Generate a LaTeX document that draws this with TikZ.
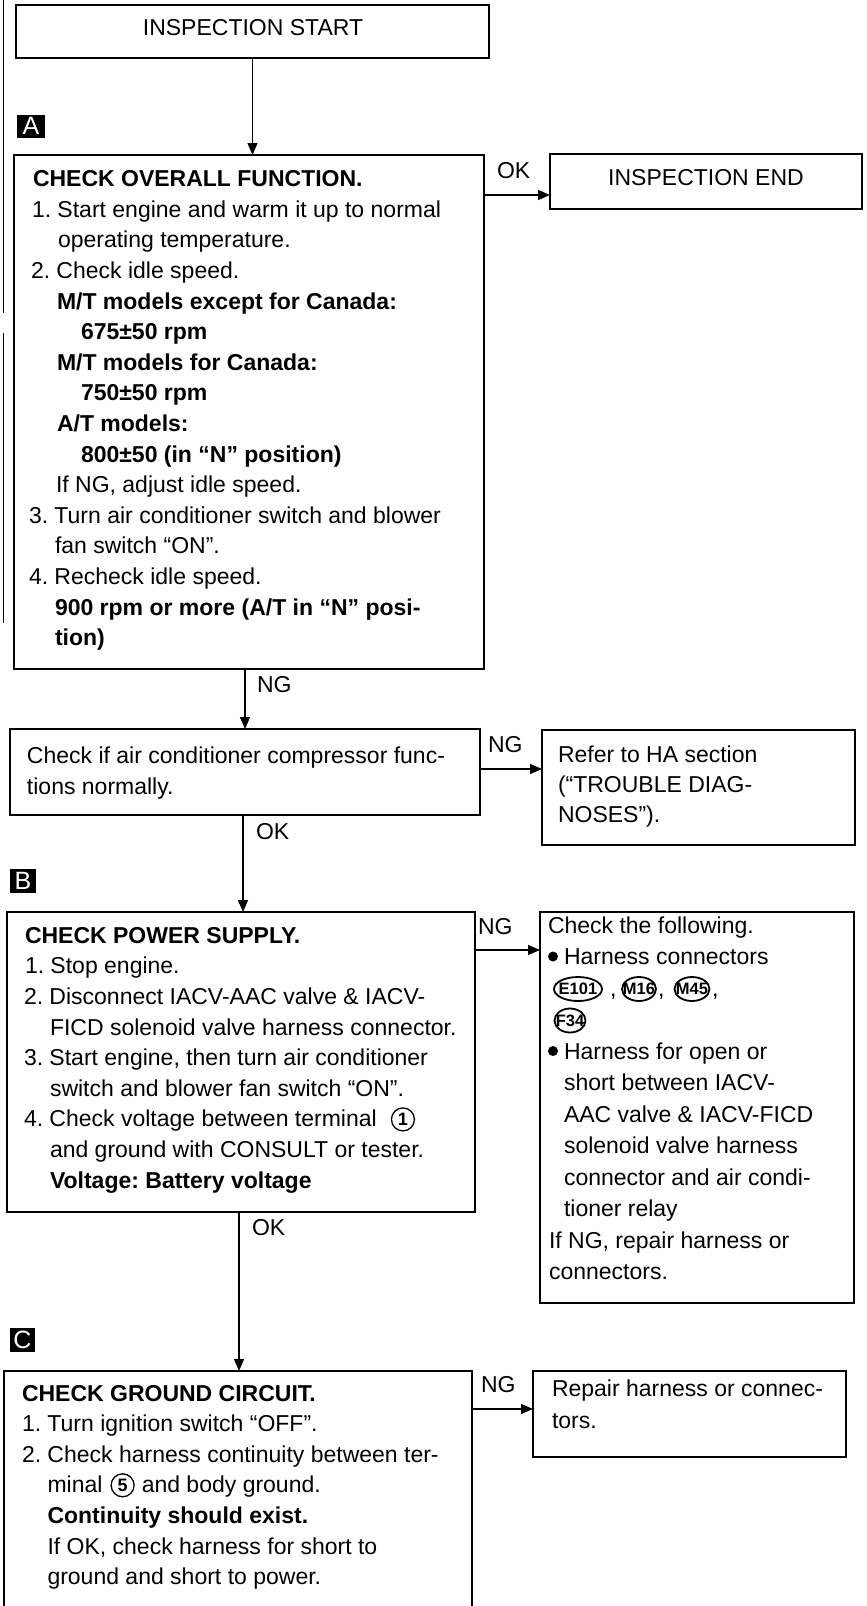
\documentclass[tikz,border=0pt]{standalone}
\usepackage{fontspec}
\setmainfont{Liberation Sans}
\usetikzlibrary{arrows.meta,shapes.geometric}
\newcommand{\nb}[1]{\makebox[25.5pt][l]{#1}}
\frenchspacing
\begin{document}
\begin{tikzpicture}[x=1pt,y=-1pt,
  box/.style={draw,line width=1.5pt,rectangle,inner sep=0pt,outer sep=0pt},
  txt/.style={anchor=base west,inner sep=0pt,outer sep=0pt,font=\fontsize{23}{27}\selectfont\frenchspacing},
  btxt/.style={txt,font=\fontsize{23}{27}\selectfont\bfseries\frenchspacing},
  arr/.style={line width=1.2pt,-{Triangle[length=12pt,width=10pt]}},
  stepbox/.style={fill=black,text=white,inner sep=0pt,font=\fontsize{25}{25}\selectfont},
  circnum/.style={circle,draw,line width=1.3pt,minimum size=23pt,inner sep=0pt,anchor=west,font=\fontsize{18}{18}\selectfont\bfseries},
  oval/.style={ellipse,draw,line width=1.8pt,minimum height=24pt,inner xsep=-5pt,inner ysep=-2pt,font=\fontsize{16.5}{16.5}\selectfont\bfseries},
  bul/.style={circle,fill=black,minimum size=10pt,inner sep=0pt}
]
\path[use as bounding box] (0,0) rectangle (867,1606);
\clip (0,0) rectangle (867,1606);

% scan edge lines
\draw[line width=1pt] (3,0) -- (3,313);
\draw[line width=1pt] (3,333) -- (3,623);

% boxes
\node[box,minimum width=473pt,minimum height=53pt] (S) at (252.5,31.5) {};
\node[box,minimum width=470pt,minimum height=514pt] (A) at (249,412) {};
\node[box,minimum width=312pt,minimum height=55pt] (E) at (706,181.5) {};
\node[box,minimum width=470pt,minimum height=86pt] (K) at (245,772) {};
\node[box,minimum width=313pt,minimum height=115pt] (H) at (698.5,787.5) {};
\node[box,minimum width=468pt,minimum height=300pt] (B) at (241,1062) {};
\node[box,minimum width=314pt,minimum height=391pt] (R) at (697,1107.5) {};
\node[box,minimum width=468pt,minimum height=259pt] (C) at (238,1500.5) {};
\node[box,minimum width=313pt,minimum height=86pt] (P) at (689.5,1414) {};

% step labels
\node[stepbox,minimum width=28pt,minimum height=23pt] (LA) at (31,126) {A};
\node[stepbox,minimum width=26pt,minimum height=24pt] (LB) at (23,881) {B};
\node[stepbox,minimum width=25pt,minimum height=24pt] (LC) at (22.5,1340) {C};

% connectors
\coordinate (yA) at (0,195);
\coordinate (yK) at (0,769);
\coordinate (yB) at (0,950);
\coordinate (yC) at (0,1409);
\draw[arr] (S.south) -- (S.south |- A.north);
\draw[arr] (A.east |- yA) -- (E.west |- yA);
\draw[arr] (A.south -| K.north) -- (K.north);
\draw[arr] (K.east |- yK) -- (H.west |- yK);
\draw[arr] ([xshift=-2pt]K.south) -- ([xshift=-2pt]K.south |- B.north);
\draw[arr] (B.east |- yB) -- (R.west |- yB);
\draw[arr] ([xshift=-2pt]B.south) -- ([xshift=-2pt]B.south |- C.north);
\draw[arr] (C.east |- yC) -- (P.west |- yC);

% connector labels
\node[txt] (l1) at (497,178) {OK};
\node[txt] (l2) at (257,692.7) {NG};
\node[txt] (l3) at (488,752.7) {NG};
\node[txt] (l4) at (256,839) {OK};
\node[txt] (l5) at (478,934) {NG};
\node[txt] (l6) at (252,1235) {OK};
\node[txt] (l7) at (481,1392) {NG};

% start / end
\node[txt,anchor=base] (St) at (253,35) {INSPECTION START};
\node[txt,anchor=base] (Et) at (706,185) {INSPECTION END};

% box A text
\node[btxt] (a1) at (33,186.7) {CHECK OVERALL FUNCTION.};
\node[txt] (a2) at (32,217.3) {\nb{1.}Start engine and warm it up to normal};
\node[txt] (a3) at (58,247.9) {operating temperature.};
\node[txt] (a4) at (31,278.5) {\nb{2.}Check idle speed.};
\node[btxt] (a5) at (57,309.1) {M/T models except for Canada:};
\node[btxt] (a6) at (81,339.7) {675±50 rpm};
\node[btxt] (a7) at (57,370.3) {M/T models for Canada:};
\node[btxt] (a8) at (81,400.9) {750±50 rpm};
\node[btxt] (a9) at (57,431.5) {A/T models:};
\node[btxt] (a10) at (81,462.1) {800±50 (in “N” position)};
\node[txt] (a11) at (56,492.7) {If NG, adjust idle speed.};
\node[txt] (a12) at (29,523.3) {\nb{3.}Turn air conditioner switch and blower};
\node[txt] (a13) at (55,553.9) {fan switch “ON”.};
\node[txt] (a14) at (29,584.5) {\nb{4.}Recheck idle speed.};
\node[btxt] (a15) at (55,615.1) {900 rpm or more (A/T in “N” posi-};
\node[btxt] (a16) at (55,645.7) {tion)};

% compressor box
\node[txt] (k1) at (27,763) {Check if air conditioner compressor func-};
\node[txt] (k2) at (27,794) {tions normally.};

% HA box
\node[txt] (h1) at (558,762) {Refer to HA section};
\node[txt] (h2) at (558,792) {(“TROUBLE DIAG-};
\node[txt] (h3) at (558,822) {NOSES”).};

% box B text
\node[btxt] (b1) at (25,943.3) {CHECK POWER SUPPLY.};
\node[txt] (b2) at (25,973.9) {\nb{1.}Stop engine.};
\node[txt] (b3) at (24,1004.5) {\nb{2.}Disconnect IACV-AAC valve \& IACV-};
\node[txt] (b4) at (50,1035.1) {FICD solenoid valve harness connector.};
\node[txt] (b5) at (24,1065.7) {\nb{3.}Start engine, then turn air conditioner};
\node[txt] (b6) at (50,1096.3) {switch and blower fan switch “ON”.};
\node[txt] (b7) at (24,1126.9) {\nb{4.}Check voltage between terminal};
\node[circnum] (n1) at ([shift={(14,-7.5)}]b7.base east) {1};
\node[txt] (b8) at (50,1157.5) {and ground with CONSULT or tester.};
\node[btxt] (b9) at (50,1188.1) {Voltage: Battery voltage};

% right box B text
\node[txt] (r1) at (548,933) {Check the following.};
\node[bul] (u1) at (553,956.5) {};
\node[txt] (r2) at (564,964.5) {Harness connectors};
\node[oval,minimum width=48pt] (o1) at (578,989) {E101};
\node[txt] (cm1) at (610,996) {,};
\node[oval,minimum width=34pt] (o2) at (639,989) {M16};
\node[txt] (cm2) at (658,996) {,};
\node[oval,minimum width=35pt] (o3) at (692,989) {M45};
\node[txt] (cm3) at (712,996) {,};
\node[oval,minimum width=31pt] (o4) at (570,1020.5) {F34};
\node[bul] (u2) at (553,1051) {};
\node[txt] (r5) at (564,1059) {Harness for open or};
\node[txt] (r6) at (564,1090.5) {short between IACV-};
\node[txt] (r7) at (564,1122) {AAC valve \& IACV-FICD};
\node[txt] (r8) at (564,1153.5) {solenoid valve harness};
\node[txt] (r9) at (564,1185) {connector and air condi-};
\node[txt] (r10) at (564,1216.5) {tioner relay};
\node[txt] (r11) at (549,1248) {If NG, repair harness or};
\node[txt] (r12) at (549,1279.5) {connectors.};

% box C text
\node[btxt] (c1) at (22,1401) {CHECK GROUND CIRCUIT.};
\node[txt] (c2) at (22,1431.6) {\nb{1.}Turn ignition switch “OFF”.};
\node[txt] (c3) at (22,1462.2) {\nb{2.}Check harness continuity between ter-};
\node[txt] (c4a) at (47.5,1492.8) {minal};
\node[circnum] (n5) at ([shift={(8,-7.5)}]c4a.base east) {5};
\node[txt] (c4b) at ([xshift=7pt]n5.east |- c4a.base) {and body ground.};
\node[btxt] (c6) at (47.5,1523.4) {Continuity should exist.};
\node[txt] (c7) at (47.5,1554) {If OK, check harness for short to};
\node[txt] (c8) at (47.5,1584.6) {ground and short to power.};

% repair box
\node[txt] (p1) at (552,1396.7) {Repair harness or connec-};
\node[txt] (p2) at (552,1428) {tors.};
\end{tikzpicture}
\end{document}
